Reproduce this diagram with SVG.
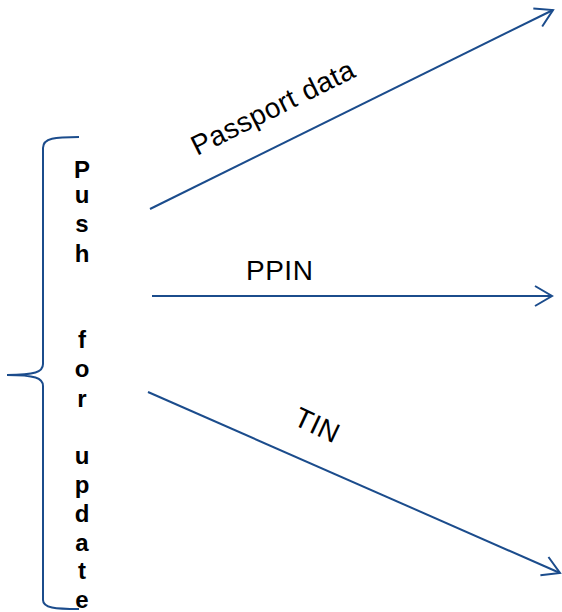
<svg xmlns="http://www.w3.org/2000/svg" width="562" height="612" viewBox="0 0 562 612">
<style>
.ln{fill:none;stroke:#1B4C8C;stroke-width:2}
.lbl{font-family:"Liberation Sans",Arial,sans-serif;font-size:28px;letter-spacing:0.5px;fill:#000}
.v{font-family:"Liberation Sans",Arial,sans-serif;font-size:24px;font-weight:bold;fill:#000;text-anchor:middle}
</style>
<defs>
<marker id="arr" viewBox="-20 -12 22 24" refX="0" refY="0" markerWidth="22" markerHeight="24" markerUnits="userSpaceOnUse" orient="auto">
<path d="M-17,-10 L0,0 L-17,10" fill="none" stroke="#1B4C8C" stroke-width="2"/>
</marker>
</defs>
<g id="brace">
<path class="ln" d="M79,137 C55,137 43,138 43,148 L43,364 C43,372 35,375 7,375 C35,375 43,378 43,386 L43,600 C43,608 55,609 79,609"/>
</g>
<g id="push-for-update">
<text class="v" x="82" y="178">P</text>
<text class="v" x="82" y="203">u</text>
<text class="v" x="82" y="232">s</text>
<text class="v" x="82" y="262">h</text>
<text class="v" x="82" y="348">f</text>
<text class="v" x="82" y="377">o</text>
<text class="v" x="82" y="407">r</text>
<text class="v" x="82" y="464">u</text>
<text class="v" x="82" y="493">p</text>
<text class="v" x="82" y="522">d</text>
<text class="v" x="82" y="551">a</text>
<text class="v" x="82" y="579">t</text>
<text class="v" x="82" y="608">e</text>
</g>
<g id="connectors">
<line class="ln" x1="150" y1="209" x2="553" y2="10" marker-end="url(#arr)"/>
<line class="ln" x1="152" y1="296" x2="552" y2="296" marker-end="url(#arr)"/>
<line class="ln" x1="148" y1="392" x2="560" y2="573" marker-end="url(#arr)"/>
</g>
<g id="labels">
<text class="lbl" transform="translate(197,156) rotate(-26.5)">Passport data</text>
<text class="lbl" x="246" y="280">PPIN</text>
<text class="lbl" transform="translate(292,424) rotate(25)">TIN</text>
</g>
</svg>
